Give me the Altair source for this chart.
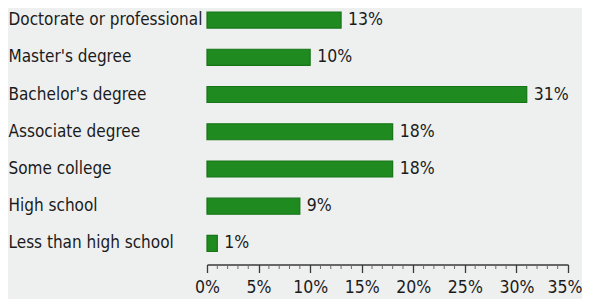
import altair as alt
import pandas as pd

categories = ["Doctorate or professional", "Master's degree", "Bachelor's degree",
              "Associate degree", "Some college", "High school", "Less than high school"]
values = [13, 10, 31, 18, 18, 9, 1]
labels = ["13%", "10%", "31%", "18%", "18%", "9%", "1%"]
major_ticks = [0, 5, 10, 15, 20, 25, 30, 35]
minor_ticks = [t for t in range(0, 36) if t % 5 != 0]

df = pd.DataFrame({"category": categories, "value": values, "label": labels})
minor_df = pd.DataFrame({"t": minor_ticks})

FONT = "DejaVu Sans Condensed, Liberation Sans, Arial, sans-serif"
TXT = "#1b1b1b"
AX = "#3a3a3a"

xscale = alt.Scale(domain=[0, 35], nice=False, zero=True)
yscale = alt.Scale(paddingInner=0.57, paddingOuter=0.108)

H = 247.5
OFF = 9

base = alt.Chart(df)

bars = base.mark_bar(color="#1f8a1f", stroke="#177517", strokeWidth=1.2).encode(
    x=alt.X("value:Q", scale=xscale,
            axis=alt.Axis(values=major_ticks, labelExpr="datum.value + '%'",
                          title=None, grid=False, ticks=True, tickSize=8, tickColor=AX, tickWidth=1.3,
                          domain=True, domainColor=AX, domainWidth=1.5, offset=OFF,
                          labelOverlap=False, labelFlush=False,
                          labelAlign={"condition": {"test": "datum.value == 35", "value": "right"}, "value": "center"},
                          labelOffset={"condition": {"test": "datum.value == 35", "value": 14}, "value": 0},
                          labelFont=FONT, labelFontSize=17.5, labelColor=TXT, labelPadding=6)),
    y=alt.Y("category:N", sort=categories, scale=yscale,
            axis=alt.Axis(title=None, ticks=False, domain=False, labelFont=FONT,
                          labelAlign="left", labelFontSize=17, labelColor=TXT,
                          labelPadding=199, labelLimit=300)),
)

text = base.mark_text(align="left", baseline="middle", dx=7, font=FONT, fontSize=17.5, color=TXT).encode(
    x=alt.X("value:Q", scale=xscale),
    y=alt.Y("category:N", sort=categories, scale=yscale),
    text="label:N",
)

minor = alt.Chart(minor_df).mark_rule(color="#6a6a6a", strokeWidth=1).encode(
    x=alt.X("t:Q", scale=xscale), y=alt.value(H + OFF), y2=alt.value(H + OFF + 4.5)
)

chart = alt.layer(bars, text, minor).properties(
    width=361, height=H,
    autosize=alt.AutoSizeParams(type="none"),
    padding={"left": 199, "top": 0, "right": 14, "bottom": 44},
    background="#eef0f0",
).configure_view(stroke=None)

chart.save("out.html", embed_options={"renderer": "svg", "actions": False})
